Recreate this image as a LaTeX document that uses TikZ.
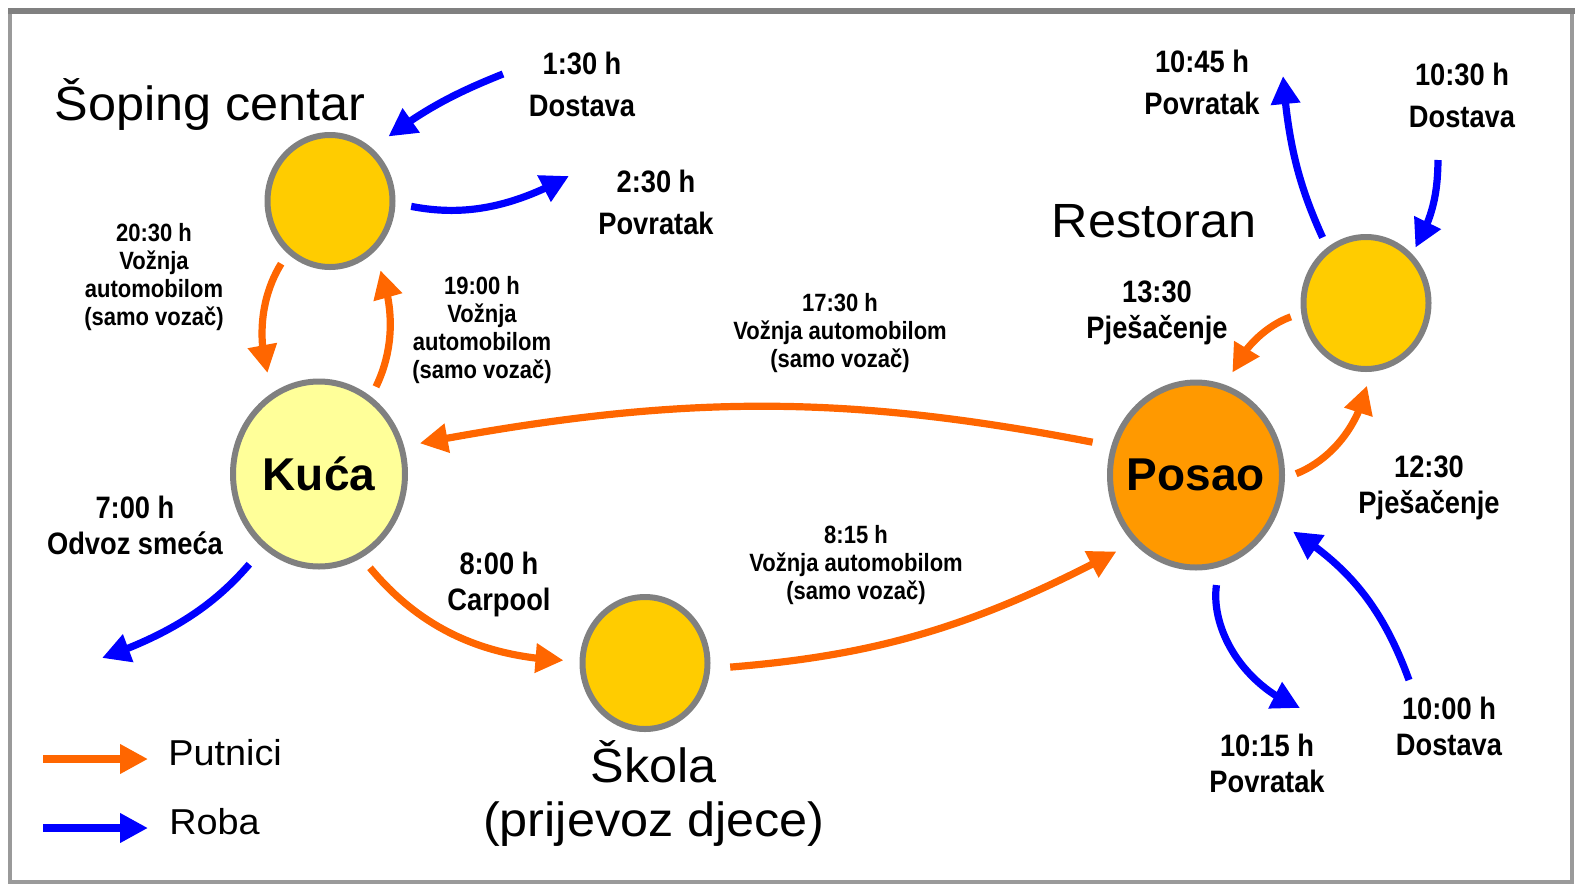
\documentclass[tikz,border=0pt]{standalone}
\usepackage{fontspec}
\setmainfont{Liberation Sans}
\newfontfamily\widefont{Liberation Sans}[FakeStretch=1.05]
\newfontfamily\condfont{Liberation Sans}[FakeStretch=0.88]
\usetikzlibrary{arrows.meta,bending,shapes.geometric}
\definecolor{ringgray}{HTML}{808080}
\definecolor{spotyellow}{HTML}{FFCC00}
\definecolor{homeyellow}{HTML}{FFFF99}
\definecolor{workorange}{HTML}{FF9900}
\definecolor{tripcolor}{HTML}{FF6600}
\definecolor{goodscolor}{HTML}{0000FF}

\begin{document}
\begin{tikzpicture}[
    x=0.5pt, y=0.5pt,
    >={Triangle[length=14pt,width=14pt]},
    spot/.style={ellipse, draw=ringgray, line width=3pt, fill=spotyellow,
                 minimum width=62.5pt, minimum height=66pt, inner sep=0pt},
    hub/.style={ellipse, draw=ringgray, line width=3pt, inner sep=0pt,
                minimum width=86pt, minimum height=92.5pt,
                font=\fontsize{23}{27}\selectfont\bfseries},
    title/.style={font=\widefont\fontsize{24}{27}\selectfont, align=center, inner sep=0pt},
    legtext/.style={font=\widefont\fontsize{18}{20}\selectfont, inner sep=0pt, anchor=base west},
    timelbl/.style={font=\condfont\bfseries\fontsize{15.5}{18}\selectfont, align=center, inner sep=0pt},
    notelbl/.style={font=\condfont\bfseries\fontsize{12.5}{14}\selectfont, align=center, inner sep=0pt},
    people/.style={->, line width=3.6pt, draw=tripcolor},
    goods/.style={->, line width=3.6pt, draw=goodscolor},
]
    \useasboundingbox (0,0) rectangle (1575,-885);

    % Frame
    \draw[ringgray!80, line width=2pt] (10,-11) rectangle (1572,-882);
    \draw[ringgray, line width=3pt] (8,-11) -- (1575,-11);

    % Places
    \node[spot] (soping) at (330,-201) {};
    \node[hub, fill=homeyellow] (kuca) at (319,-474) {\makebox[0pt]{Kuća}};
    \node[spot] (skola) at (645,-663) {};
    \node[hub, fill=workorange] (posao) at (1196,-475) {\makebox[0pt]{Posao}};
    \node[spot] (restoran) at (1366,-303) {};

    \node[title, anchor=base] (tSoping) at (210,-120) {Šoping centar};
    \node[title, anchor=base] (tRestoran) at (1154,-237) {Restoran};
    \node[title] (tSkola) at (654,-793) {Škola\\(prijevoz djece)};

    % Free ends of goods arrows
    \coordinate (in130)   at (503,-74);
    \coordinate (out230)  at (569,-176);
    \coordinate (out700)  at (102,-658);
    \coordinate (out1045) at (1283,-76);
    \coordinate (in1030)  at (1438,-160);
    \coordinate (out1015) at (1300,-708);
    \coordinate (in1000)  at (1409,-680);

    % Time labels
    \node[timelbl] (t130)  at (582,-84)  {1:30 h\\[3pt]Dostava};
    \node[timelbl] (t230)  at (656,-202) {2:30 h\\[3pt]Povratak};
    \node[timelbl] (t1045) at (1202,-82) {10:45 h\\[3pt]Povratak};
    \node[timelbl] (t1030) at (1462,-95) {10:30 h\\[3pt]Dostava};
    \node[timelbl] (t1330) at (1157,-313) {13:30\\Pješačenje};
    \node[timelbl] (t700)  at (135,-525) {7:00 h\\Odvoz smeća};
    \node[timelbl] (t800)  at (499,-584) {8:00 h\\Carpool};
    \node[timelbl] (t1230) at (1429,-488) {12:30\\Pješačenje};
    \node[timelbl] (t1015) at (1267,-763) {10:15 h\\Povratak};
    \node[timelbl] (t1000) at (1449,-726) {10:00 h\\Dostava};

    \node[notelbl] (t2030) at (154,-277) {20:30 h\\Vožnja\\automobilom\\(samo vozač)};
    \node[notelbl] (t1900) at (482,-330) {19:00 h\\Vožnja\\automobilom\\(samo vozač)};
    \node[notelbl] (t1730) at (840,-333) {17:30 h\\Vožnja automobilom\\(samo vozač)};
    \node[notelbl] (t815)  at (856,-565) {8:15 h\\Vožnja automobilom\\(samo vozač)};

    % Passenger arrows
    \draw[people, shorten <=6pt, shorten >=10pt] (soping.231) to[bend right=26] (kuca.119);
    \draw[people, shorten <=5.5pt, shorten >=9.5pt] (kuca.56) to[bend right=25] (soping.310);
    \draw[people, shorten <=9.5pt, shorten >=8pt] (posao.161) to[bend right=11] (kuca.18);
    \draw[people, shorten <=6.5pt, shorten >=8pt] (kuca.297) to[bend right=25] (skola.178);
    \draw[people, shorten <=10pt, shorten >=9.5pt] (skola.355) to[bend right=12] (posao.227);
    \draw[people, shorten <=6pt, shorten >=7pt] (posao.358) to[bend right=30] (restoran.273);
    \draw[people, shorten <=5.5pt, shorten >=7pt] (restoran.189) to[bend right=25] (posao.71);

    % Goods arrows
    \draw[goods, shorten >=10pt] (in130) to[bend right=8] (soping.51);
    \draw[goods, shorten <=8pt] (soping.358) to[bend right=20] (out230);
    \draw[goods, shorten <=10.5pt] (kuca.233) to[bend left=15] (out700);
    \draw[goods, shorten <=5.5pt] (restoran.125) to[bend left=10] (out1045);
    \draw[goods, shorten >=3.5pt] (in1030) to[bend left=15] (restoran.47);
    \draw[goods, shorten <=9pt] (posao.284) to[bend right=38] (out1015);
    \draw[goods, shorten >=11pt] (in1000) to[bend right=20] (posao.330);

    % Legend
    \coordinate (legP1) at (43,-759);
    \coordinate (legP2) at (148,-759);
    \coordinate (legG1) at (43,-828);
    \coordinate (legG2) at (148,-828);
    \draw[people] (legP1) -- (legP2);
    \draw[goods] (legG1) -- (legG2);
    \node[legtext] (legPeople) at (168,-765) {Putnici};
    \node[legtext] (legGoods) at (169,-834) {Roba};
\end{tikzpicture}
\end{document}
